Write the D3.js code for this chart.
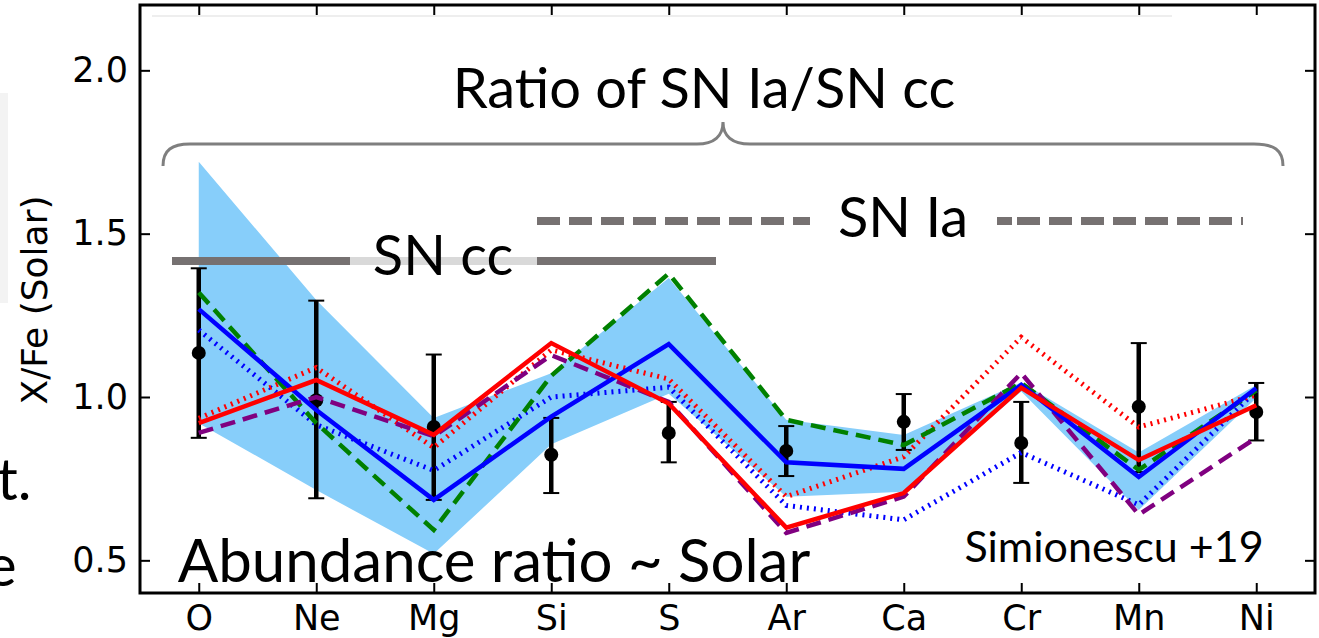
<!DOCTYPE html>
<html>
<head>
<meta charset="utf-8">
<script src="https://cdn.jsdelivr.net/npm/d3@7"></script>
<style>
  body { margin: 0; background: #fff; }
  svg { display: block; }
  .tick text { font-family: "DejaVu Sans", sans-serif; font-size: 35px; fill: #000; }
  .note { font-family: Lato, "Open Sans", sans-serif; fill: #000; }
</style>
</head>
<body>
<div id="container"></div>
<script>
// elements on the x axis
const elements = ["O", "Ne", "Mg", "Si", "S", "Ar", "Ca", "Cr", "Mn", "Ni"];
const yTicks = [0.5, 1.0, 1.5, 2.0];

// measured X/Fe with error bars
const obsValue = [1.135, 0.99, 0.908, 0.823, 0.89, 0.835, 0.924, 0.859, 0.97, 0.954];
const obsLow   = [0.875, 0.69, 0.685, 0.706, 0.80, 0.758, 0.838, 0.737, 0.77, 0.867];
const obsHigh  = [1.394, 1.295, 1.13, 0.936, 0.985, 0.911, 1.009, 0.985, 1.165, 1.043];

// shaded range
const bandUpper = [1.72, 1.297, 0.936, 1.073, 1.364, 0.93, 0.884, 1.045, 0.83, 1.037];
const bandLower = [0.92, 0.715, 0.52, 0.855, 1.01, 0.695, 0.71, 1.017, 0.654, 0.997];

// model curves
const blueSolid  = [1.269, 0.96, 0.685, 0.94, 1.162, 0.80, 0.78, 1.037, 0.755, 1.027];
const blueDotted = [1.205, 0.915, 0.775, 1.0, 1.03, 0.668, 0.624, 0.83, 0.67, 1.02];
const redSolid   = [0.92, 1.052, 0.884, 1.165, 0.98, 0.60, 0.706, 1.028, 0.807, 0.975];
const redDotted  = [0.935, 1.09, 0.845, 1.144, 1.055, 0.695, 0.817, 1.183, 0.908, 1.006];
const greenDash  = [1.32, 0.92, 0.593, 1.065, 1.378, 0.93, 0.853, 1.043, 0.777, 1.02];
const purpleDash = [0.89, 1.0, 0.88, 1.128, 0.985, 0.584, 0.695, 1.073, 0.64, 0.875];

const width = 1319, height = 638;
const plot = { left: 140, right: 1315, top: 5, bottom: 593 };

const svg = d3.select("#container").append("svg")
    .attr("width", width)
    .attr("height", height);

// leftovers of the slide behind the figure
svg.append("rect").attr("x", 0).attr("y", 93).attr("width", 8).attr("height", 210).attr("fill", "#f3f3f3");
svg.append("line").attr("x1", 152).attr("x2", 1172).attr("y1", 16).attr("y2", 16)
    .attr("stroke", "#e8e8e8").attr("stroke-width", 1.5);
svg.append("text").attr("class", "note").attr("x", -3).attr("y", 500).style("font-size", "58px").text("t.");
svg.append("text").attr("class", "note").attr("x", -14).attr("y", 586).style("font-size", "58px").text("e");

const x = d3.scalePoint()
    .domain(elements)
    .range([plot.left, plot.right])
    .padding(0.5);

const y = d3.scaleLinear()
    .domain([0.4, 2.2])
    .range([plot.bottom, plot.top]);

const rows = elements.map((el, i) => ({
    el, v: obsValue[i], lo: obsLow[i], hi: obsHigh[i], up: bandUpper[i], dn: bandLower[i]
}));

// shaded band
svg.append("path")
    .datum(rows)
    .attr("fill", "#87cefa")
    .attr("d", d3.area().x(d => x(d.el)).y0(d => y(d.dn)).y1(d => y(d.up)));

// error bars
const eb = svg.append("g");
eb.selectAll(".bar").data(rows).enter().append("line")
    .attr("x1", d => x(d.el)).attr("x2", d => x(d.el))
    .attr("y1", d => y(d.lo)).attr("y2", d => y(d.hi))
    .attr("stroke", "#000").attr("stroke-width", 4.5);
eb.selectAll(".capHi").data(rows).enter().append("line")
    .attr("x1", d => x(d.el) - 8).attr("x2", d => x(d.el) + 8)
    .attr("y1", d => y(d.hi)).attr("y2", d => y(d.hi))
    .attr("stroke", "#000").attr("stroke-width", 2);
eb.selectAll(".capLo").data(rows).enter().append("line")
    .attr("x1", d => x(d.el) - 8).attr("x2", d => x(d.el) + 8)
    .attr("y1", d => y(d.lo)).attr("y2", d => y(d.lo))
    .attr("stroke", "#000").attr("stroke-width", 2);
eb.selectAll("circle").data(rows).enter().append("circle")
    .attr("cx", d => x(d.el)).attr("cy", d => y(d.v)).attr("r", 7).attr("fill", "#000");

// model lines
const series = [
    { values: blueDotted, color: "#0000ff", dash: "2,5", w: 5 },
    { values: redDotted, color: "#ff0000", dash: "2,5", w: 5 },
    { values: greenDash, color: "#008000", dash: "15,8", w: 4.5 },
    { values: purpleDash, color: "#800080", dash: "15,8", w: 4.5 },
    { values: blueSolid, color: "#0000ff", dash: null, w: 4.5 },
    { values: redSolid, color: "#ff0000", dash: null, w: 4.5 }
];
const line = d3.line().x((d, i) => x(elements[i])).y(d => y(d));
svg.selectAll(".model").data(series).enter().append("path")
    .attr("class", "model")
    .attr("fill", "none")
    .attr("stroke", d => d.color)
    .attr("stroke-width", d => d.w)
    .attr("stroke-dasharray", d => d.dash)
    .attr("d", d => line(d.values));

// axes with inward ticks on all sides
const fmt = d3.format(".1f");
const axLeft = svg.append("g").attr("transform", `translate(${plot.left},0)`)
    .call(d3.axisLeft(y).tickValues(yTicks).tickFormat(fmt).tickSizeInner(-10).tickSizeOuter(0).tickPadding(12));
const axRight = svg.append("g").attr("transform", `translate(${plot.right},0)`)
    .call(d3.axisRight(y).tickValues(yTicks).tickFormat("").tickSizeInner(-10).tickSizeOuter(0));
const axBottom = svg.append("g").attr("transform", `translate(0,${plot.bottom})`)
    .call(d3.axisBottom(x).tickSizeInner(-10).tickSizeOuter(0).tickPadding(12));
const axTop = svg.append("g").attr("transform", `translate(0,${plot.top})`)
    .call(d3.axisTop(x).tickFormat("").tickSizeInner(-10).tickSizeOuter(0));
[axLeft, axRight, axBottom, axTop].forEach(g => {
    g.select(".domain").remove();
    g.selectAll(".tick line").attr("stroke", "#000").attr("stroke-width", 2);
});

svg.append("rect")
    .attr("x", plot.left).attr("y", plot.top)
    .attr("width", plot.right - plot.left).attr("height", plot.bottom - plot.top)
    .attr("fill", "none").attr("stroke", "#000").attr("stroke-width", 3);

svg.append("text")
    .attr("transform", `translate(47,300) rotate(-90)`)
    .attr("text-anchor", "middle")
    .style("font-family", "'DejaVu Sans', sans-serif")
    .style("font-size", "36px")
    .text("X/Fe (Solar)");

// slide overlay: brace, SN markers and notes
svg.append("path")
    .attr("fill", "none").attr("stroke", "#7f7f7f").attr("stroke-width", 3)
    .attr("d", "M163,166 C163,150 172,144 190,144 L697,144 C714,144 723,136 723,122 C723,136 732,144 750,144 L1254,144 C1274,144 1283,150 1283,166");

svg.append("line").attr("x1", 172).attr("x2", 716).attr("y1", 261).attr("y2", 261)
    .attr("stroke", "#d9d9d9").attr("stroke-width", 8);
svg.append("line").attr("x1", 172).attr("x2", 350).attr("y1", 261).attr("y2", 261)
    .attr("stroke", "#767171").attr("stroke-width", 8);
svg.append("line").attr("x1", 537).attr("x2", 716).attr("y1", 261).attr("y2", 261)
    .attr("stroke", "#767171").attr("stroke-width", 8);

svg.append("line").attr("x1", 537).attr("x2", 810).attr("y1", 221).attr("y2", 221)
    .attr("stroke", "#767171").attr("stroke-width", 8).attr("stroke-dasharray", "23,9");
svg.append("line").attr("x1", 997).attr("x2", 1243).attr("y1", 221).attr("y2", 221)
    .attr("stroke", "#767171").attr("stroke-width", 8).attr("stroke-dasharray", "15,5,23,9,23,9,23,9,23,9,23,9,23,9,23,9,3");

const notes = [
    { text: "Ratio of SN Ia/SN cc", x: 704, y: 108, size: 56 },
    { text: "SN cc", x: 443, y: 275, size: 56 },
    { text: "SN Ia", x: 903, y: 237, size: 56 },
    { text: "Abundance ratio ~ Solar", x: 494, y: 582, size: 60 },
    { text: "Simionescu +19", x: 1114, y: 562, size: 43 }
];
svg.selectAll(".noteText").data(notes).enter().append("text")
    .attr("class", "note")
    .attr("x", d => d.x).attr("y", d => d.y)
    .attr("text-anchor", "middle")
    .style("font-size", d => d.size + "px")
    .text(d => d.text);
</script>
</body>
</html>
